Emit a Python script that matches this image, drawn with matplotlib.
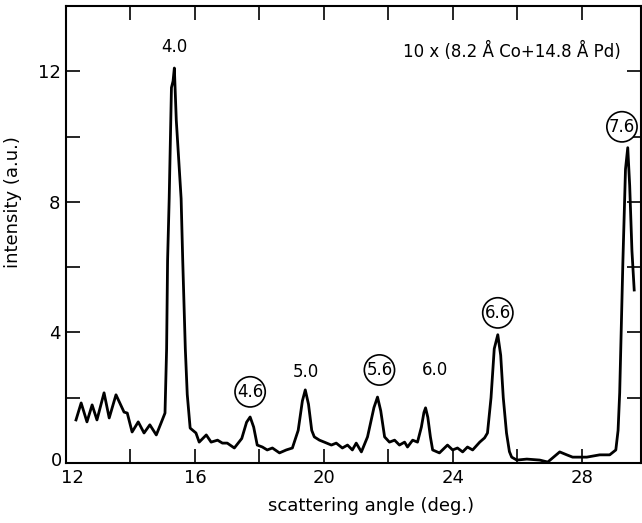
import matplotlib
matplotlib.use("Agg")
import matplotlib.pyplot as plt
from matplotlib.ticker import MultipleLocator, FuncFormatter

plt.rcParams["font.family"] = ["DejaVu Sans"]

# scattering angle (deg.) / intensity (a.u.)
angle = [12.31, 12.47, 12.65, 12.81, 12.96, 13.18, 13.34, 13.55, 13.8, 13.9,
         14.05, 14.24, 14.42, 14.6, 14.8, 14.95, 15.07, 15.12, 15.15, 15.2,
         15.27, 15.32, 15.36, 15.42, 15.57, 15.62, 15.7, 15.76, 15.85, 16.03,
         16.13, 16.35, 16.5, 16.7, 16.85, 17.0, 17.22, 17.45, 17.6, 17.71,
         17.82, 17.93, 18.09, 18.24, 18.4, 18.62, 18.83, 19.02, 19.2, 19.33,
         19.42, 19.52, 19.62, 19.7, 19.86, 20.01, 20.23, 20.38, 20.57, 20.73,
         20.88, 21.0, 21.16, 21.35, 21.55, 21.66, 21.76, 21.88, 22.03, 22.19,
         22.34, 22.5, 22.59, 22.75, 22.9, 23.02, 23.1, 23.15, 23.22, 23.3,
         23.37, 23.58, 23.83, 23.99, 24.14, 24.3, 24.45, 24.61, 24.83, 24.98,
         25.07, 25.18, 25.28, 25.39, 25.48, 25.56, 25.66, 25.75, 25.82, 25.98,
         26.29, 26.69, 26.94, 27.31, 27.53, 27.71, 28.15, 28.55, 28.86, 29.05,
         29.12, 29.17, 29.27, 29.35, 29.42, 29.48, 29.55, 29.62]
intensity = [1.32, 1.84, 1.26, 1.78, 1.32, 2.15, 1.38, 2.09, 1.56, 1.53,
             0.95, 1.26, 0.92, 1.17, 0.86, 1.23, 1.53, 3.5, 6.2, 8.1,
             11.5, 11.7, 12.1, 10.5, 8.1, 6.2, 3.5, 2.1, 1.07, 0.92,
             0.64, 0.86, 0.64, 0.7, 0.61, 0.61, 0.46, 0.75, 1.25, 1.41,
             1.1, 0.55, 0.49, 0.4, 0.46, 0.31, 0.4, 0.46, 1.0, 1.9,
             2.24, 1.8, 1.0, 0.8, 0.7, 0.64, 0.55, 0.61, 0.46, 0.55,
             0.4, 0.61, 0.34, 0.8, 1.7, 2.02, 1.6, 0.8, 0.64, 0.7,
             0.55, 0.64, 0.49, 0.7, 0.64, 1.1, 1.55, 1.69, 1.4, 0.8,
             0.4, 0.31, 0.55, 0.4, 0.46, 0.34, 0.49, 0.4, 0.64, 0.77,
             0.92, 2.0, 3.5, 3.93, 3.3, 2.0, 0.92, 0.35, 0.18, 0.09,
             0.12, 0.09, 0.03, 0.34, 0.25, 0.18, 0.18, 0.25, 0.25, 0.4,
             1.0, 2.15, 6.2, 9.0, 9.66, 8.5, 6.5, 5.3]

# peak labels (d-spacing), circled or not
peak_labels = ["4.0", "4.6", "5.0", "5.6", "6.0", "6.6", "7.6"]
peak_x = [15.35, 17.71, 19.45, 21.72, 23.43, 25.39, 29.24]
peak_y = [12.73, 2.18, 2.79, 2.85, 2.85, 4.6, 10.3]
circled = [False, True, False, True, False, True, True]

fig = plt.figure(figsize=(6.42, 5.23), dpi=100)
ax = fig.add_axes([0.1028, 0.1147, 0.8956, 0.8738])

ax.plot(angle, intensity, color="black", lw=2.0, solid_joinstyle="round")

ax.set_xlim(12, 29.83)
ax.set_ylim(0, 14)
ax.xaxis.set_major_locator(MultipleLocator(4))
ax.xaxis.set_minor_locator(MultipleLocator(2))
ax.yaxis.set_major_locator(MultipleLocator(4))
ax.yaxis.set_minor_locator(MultipleLocator(2))
# the corner labels "12" and "0" are drawn by hand below so they don't collide
ax.xaxis.set_major_formatter(FuncFormatter(lambda v, p: "" if v == 12 else f"{v:g}"))
ax.yaxis.set_major_formatter(FuncFormatter(lambda v, p: "" if v == 0 else f"{v:g}"))
ax.tick_params(which="both", direction="in", top=True, right=True,
               length=10, width=1.2, labelsize=13, pad=4)
for s in ax.spines.values():
    s.set_linewidth(1.5)

ax.text(0.012, -0.033, "12", transform=ax.transAxes, ha="center", va="center", fontsize=13)
ax.text(-0.016, 0.004, "0", transform=ax.transAxes, ha="center", va="center", fontsize=13)

ax.set_xlabel("scattering angle (deg.)", fontsize=13)
ax.set_ylabel("intensity (a.u.)", fontsize=13)
ax.xaxis.set_label_coords(0.53, -0.075)
ax.yaxis.set_label_coords(-0.077, 0.57)

for lab, x, y, c in zip(peak_labels, peak_x, peak_y, circled):
    if c:
        ax.text(x, y, lab, ha="center", va="center", fontsize=12,
                bbox=dict(boxstyle="circle,pad=0.12", fc="white", ec="black", lw=1.2))
    else:
        ax.text(x, y, lab, ha="center", va="center", fontsize=12)

ax.text(25.82, 12.6, "10 x (8.2 Å Co+14.8 Å Pd)", ha="center", va="center", fontsize=12)

fig.savefig("out.png", dpi=100)
